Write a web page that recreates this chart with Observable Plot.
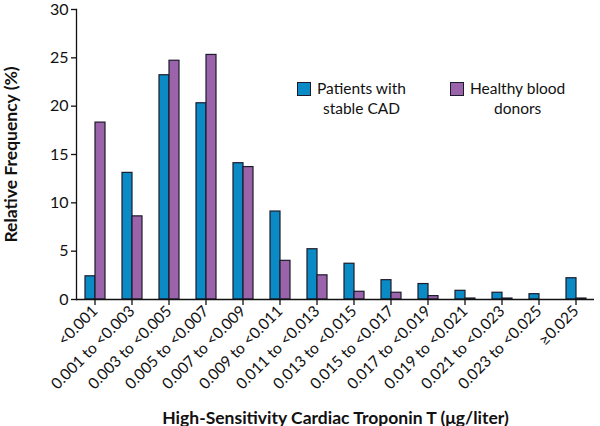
<!DOCTYPE html>
<html>
<head>
<meta charset="utf-8">
<script src="https://cdn.jsdelivr.net/npm/d3@7"></script>
<script src="https://cdn.jsdelivr.net/npm/@observablehq/plot@0.6"></script>
<style>
  body { margin: 0; background: white; }
  #wrap { position: relative; width: 600px; height: 426px; font-family: Lato, "Open Sans", sans-serif; }
  #legend { position: absolute; left: 297px; top: 78px; display: flex; font-size: 15.5px; color: #111; }
  .item { display: flex; align-items: flex-start; }
  .sw { width: 12px; height: 12px; border: 1.2px solid #1b1b2b; margin-top: 4px; margin-right: 6px; }
  .lab { text-align: center; line-height: 20px; }
</style>
</head>
<body>
<div id="wrap"></div>
<script>
const categories = ["<0.001", "0.001 to <0.003", "0.003 to <0.005", "0.005 to <0.007", "0.007 to <0.009",
  "0.009 to <0.011", "0.011 to <0.013", "0.013 to <0.015", "0.015 to <0.017", "0.017 to <0.019",
  "0.019 to <0.021", "0.021 to <0.023", "0.023 to <0.025", "≥0.025"];
const seriesNames = ["Patients with stable CAD", "Healthy blood donors"];
const cadValues = [2.4, 13.1, 23.2, 20.3, 14.1, 9.1, 5.2, 3.7, 2.0, 1.6, 0.9, 0.7, 0.55, 2.2];
const donorValues = [18.3, 8.6, 24.7, 25.3, 13.7, 4.0, 2.5, 0.8, 0.7, 0.35, 0.1, 0.1, 0, 0.1];
const yTicks = [0, 5, 10, 15, 20, 25, 30];
const colors = ["#0b8bc5", "#9b63a9"];
const legendLines = [["Patients with", "stable CAD"], ["Healthy blood", "donors"]];
const xTitle = "High-Sensitivity Cardiac Troponin T (μg/liter)";
const yTitle = "Relative Frequency (%)";

const data = [];
categories.forEach((c, i) => {
  data.push({cat: c, series: seriesNames[0], value: cadValues[i]});
  data.push({cat: c, series: seriesNames[1], value: donorValues[i]});
});

const chart = Plot.plot({
  width: 600, height: 426,
  marginLeft: 70, marginRight: 0, marginTop: 9, marginBottom: 127,
  style: {fontFamily: "Lato, 'Open Sans', sans-serif", fontSize: "15px", color: "#111", background: "white", overflow: "visible"},
  fx: {domain: categories, padding: 0},
  x: {domain: seriesNames, axis: null, paddingInner: 0, paddingOuter: 0.72},
  y: {domain: [0, 30]},
  color: {domain: seriesNames, range: colors},
  marks: [
    Plot.barY(data, {fx: "cat", x: "series", y: "value", fill: "series", stroke: "#1b1b2b", strokeWidth: 1.2}),
    Plot.ruleY([0], {stroke: "#111", strokeWidth: 1.3}),
    Plot.frame({anchor: "left", facetAnchor: "left", stroke: "#111", strokeWidth: 1.3}),
    Plot.axisY({ticks: yTicks, tickSize: 5, tickPadding: 3, fontSize: 16, strokeWidth: 1.3,
      label: yTitle, labelAnchor: "center", labelOffset: 72, labelArrow: "none"}),
    Plot.axisFx({anchor: "bottom", tickRotate: -45, tickSize: 6, tickPadding: 3, fontSize: 15.5, strokeWidth: 1.3,
      label: xTitle, labelAnchor: "center", labelOffset: 124, labelArrow: "none"})
  ]
});
document.getElementById("wrap").appendChild(chart);

// legend overlay
const leg = document.createElement("div");
leg.id = "legend";
seriesNames.forEach((s, i) => {
  const it = document.createElement("div");
  it.className = "item";
  it.style.marginRight = i === 0 ? "44px" : "0";
  const sw = document.createElement("div");
  sw.className = "sw";
  sw.style.background = colors[i];
  const lab = document.createElement("div");
  lab.className = "lab";
  lab.innerHTML = legendLines[i].join("<br>");
  it.appendChild(sw); it.appendChild(lab);
  leg.appendChild(it);
});
document.getElementById("wrap").appendChild(leg);

// bold axis titles
d3.select(chart).selectAll("text").each(function() {
  const t = d3.select(this).text();
  if (t === xTitle || t === yTitle) d3.select(this).attr("font-weight", "bold").attr("font-size", 17.5);
});
</script>
</body>
</html>
